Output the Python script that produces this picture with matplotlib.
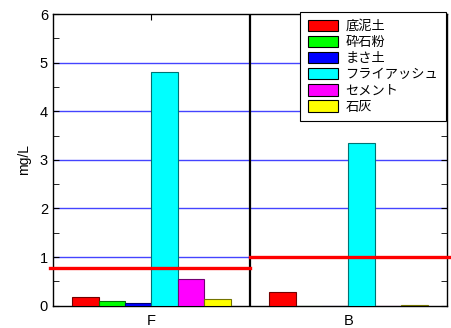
import numpy as np
import matplotlib.pyplot as plt
from matplotlib.ticker import MultipleLocator

plt.rcParams['font.family'] = ['Liberation Sans', 'Noto Sans CJK JP', 'DejaVu Sans']

# 試料と各材料の溶出量 (mg/L)
sites = ['F', 'B']
materials = ['底泥土', '砕石粉', 'まさ土', 'フライアッシュ', 'セメント', '石灰']
sediment = [0.18, 0.28]
crushed_stone = [0.09, 0.0]
masa_soil = [0.05, 0.0]
fly_ash = [4.8, 3.35]
cement = [0.55, 0.0]
lime = [0.13, 0.01]
limits = [0.78, 1.0]  # 基準値

series = [sediment, crushed_stone, masa_soil, fly_ash, cement, lime]
colors = ['#ff0000', '#00ff00', '#0000ff', '#00ffff', '#ff00ff', '#ffff00']

fig = plt.figure(figsize=(4.52, 3.28), dpi=100)
ax = fig.add_axes([0.117, 0.068, 0.872, 0.889])

x = np.arange(len(sites)) + 0.5
w = 0.134
for i, (vals, name, c) in enumerate(zip(series, materials, colors)):
    edge = tuple(0.45 * v for v in plt.matplotlib.colors.to_rgb(c))
    ax.bar(x + (i - 2.5) * w, vals, w, color=c, edgecolor=edge, linewidth=0.8,
           label=name, zorder=3)

# 横のグリッド (1〜5)
for yv in range(1, 6):
    ax.axhline(yv, color='#4444ff', linewidth=1, zorder=1)

# 仕切り線
ax.axvline(1, color='black', linewidth=1.6, zorder=4)

# 基準値の線
ax.plot([-0.015, 1], [limits[0]] * 2, color='#ff0000', linewidth=2.4,
        clip_on=False, zorder=5)
ax.plot([1, 2.02], [limits[1]] * 2, color='#ff0000', linewidth=2.4,
        clip_on=False, zorder=5)

ax.set_xlim(0, 2)
ax.set_ylim(0, 6)
ax.set_xticks(x)
ax.set_xticklabels(sites, fontsize=10.5)
ax.yaxis.set_major_locator(MultipleLocator(1))
ax.yaxis.set_minor_locator(MultipleLocator(0.5))
ax.tick_params(axis='y', which='both', direction='in', left=True, right=True,
               labelsize=10.5, length=4)
ax.tick_params(axis='x', direction='in', top=True, length=4, pad=6)
ax.set_ylabel('mg/L', fontsize=10, labelpad=6)

for s in ax.spines.values():
    s.set_linewidth(1)

leg = ax.legend(loc='upper right', bbox_to_anchor=(0.998, 1.008), borderaxespad=0,
                fancybox=False, edgecolor='black', framealpha=1,
                prop={'family': ['Noto Sans CJK JP', 'DejaVu Sans'], 'size': 9.5},
                handlelength=2.3, handleheight=0.95, labelspacing=0.22,
                handletextpad=0.55, borderpad=0.6)
leg.get_frame().set_linewidth(0.8)
for h in leg.legend_handles:
    h.set_edgecolor('black')
leg.set_zorder(6)

fig.savefig('out.png', dpi=100)
